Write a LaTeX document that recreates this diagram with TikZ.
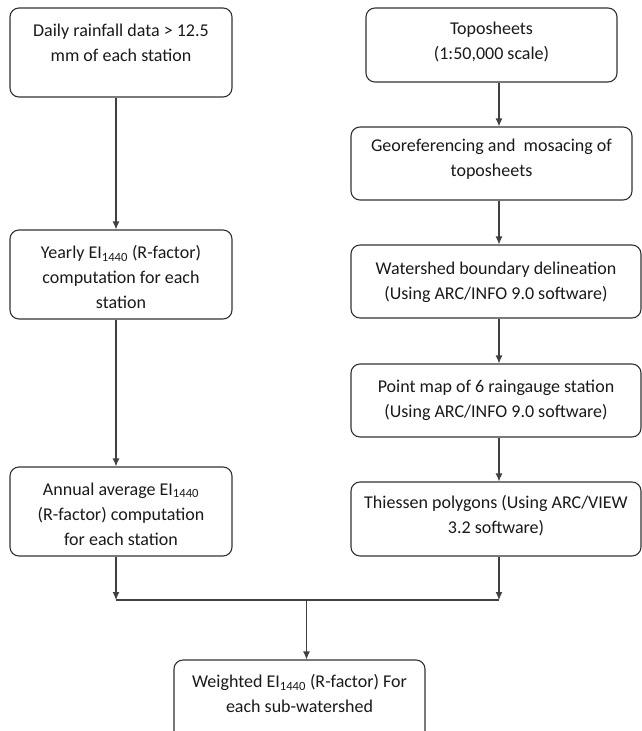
\documentclass[tikz,border=0pt]{standalone}
\usepackage{fontspec}
\setmainfont{Carlito}
\usetikzlibrary{arrows.meta}
\definecolor{edge}{HTML}{333333}
\definecolor{conn}{HTML}{404040}
\definecolor{ink}{HTML}{1A1A1A}
\tikzset{
  box/.style={draw=edge, line width=1.1pt, rounded corners=9pt, inner sep=0pt, fill=white},
  txt/.style={align=center, text=ink, inner sep=0pt, font=\fontsize{18}{25}\selectfont},
  arr/.style={draw=conn, line width=1.1pt, -{Latex[length=8pt,width=7pt]}},
  ln/.style={draw=conn, line width=1.1pt}
}
\begin{document}
\begin{tikzpicture}[x=1pt,y=-1pt]
\useasboundingbox (0,0) rectangle (642,731);
\clip (0,0) rectangle (642,731);
% column coordinates
\coordinate (colL) at (116,0);
\coordinate (colR) at (499,0);
\coordinate (jl) at (116,600);
\coordinate (jr) at (499,600);
\coordinate (jm) at (306.5,600);
% boxes
\node[box, minimum width=222, minimum height=89] (daily) at (121,52.5) {};
\node[box, minimum width=251, minimum height=74] (topo) at (491.5,45) {};
\node[box, minimum width=281, minimum height=73] (geo) at (491.5,163.5) {};
\node[box, minimum width=222, minimum height=89] (yearly) at (121,274.5) {};
\node[box, minimum width=290, minimum height=73] (water) at (496,281.5) {};
\node[box, minimum width=290, minimum height=73] (point) at (496,400.5) {};
\node[box, minimum width=290, minimum height=74] (thies) at (496,519) {};
\node[box, minimum width=222, minimum height=89] (annual) at (121,511.5) {};
\node[box, minimum width=251, minimum height=85] (weight) at (299.5,702.5) {};
% texts
\node[txt] (tdaily) at (121,42.5) {Daily rainfall data > 12.5\\mm of each station};
\node[txt] (ttopo) at (491.5,41.5) {Toposheets\\(1:50,000 scale)};
\node[txt] (tgeo) at (491.5,159.5) {Georeferencing and~ mosacing of\\toposheets};
\node[txt] (tyearly) at (121,277) {Yearly EI\textsubscript{1440} (R-factor)\\computation for each\\station};
\node[txt] (twater) at (496,282) {Watershed boundary delineation\\(Using ARC/INFO 9.0 software)};
\node[txt] (tpoint) at (496,400) {Point map of 6 raingauge station\\(Using ARC/INFO 9.0 software)};
\node[txt] (tthies) at (496,515.5) {Thiessen polygons (Using ARC/VIEW\\3.2 software)};
\node[txt] (tannual) at (121,514) {Annual average EI\textsubscript{1440}\\(R-factor) computation\\for each station};
\node[txt] (tweight) at (299.5,693.5) {Weighted EI\textsubscript{1440} (R-factor) For\\each sub-watershed};
% connectors
\draw[arr] (daily.south -| colL) -- (yearly.north -| colL);
\draw[arr] (yearly.south -| colL) -- (annual.north -| colL);
\draw[arr] (topo.south -| colR) -- (geo.north -| colR);
\draw[arr] (geo.south -| colR) -- (water.north -| colR);
\draw[arr] (water.south -| colR) -- (point.north -| colR);
\draw[arr] (point.south -| colR) -- (thies.north -| colR);
\draw[arr] (annual.south -| colL) -- (jl);
\draw[arr] (thies.south -| colR) -- (jr);
\draw[ln] (jl) -- (jr);
\draw[arr] (jm) -- (weight.north -| jm);
\end{tikzpicture}
\end{document}
